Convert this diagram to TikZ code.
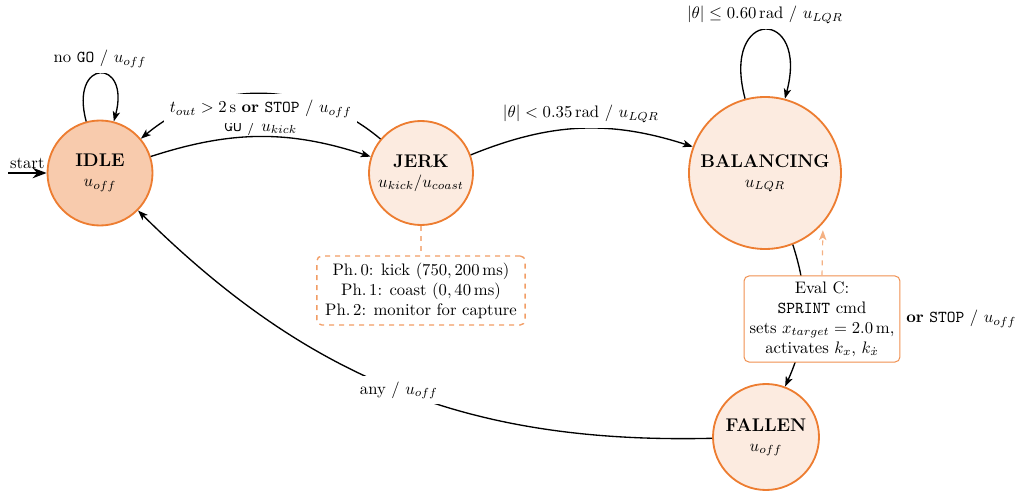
\documentclass[tikz,border=0pt]{standalone}
\usetikzlibrary{arrows.meta}
\definecolor{accent}{RGB}{237,125,49}
\newcommand{\statename}[1]{{\fontsize{11}{13}\selectfont\bfseries #1}}

\begin{document}
\begin{tikzpicture}[x=0.6pt,y=0.6pt,
  fsmstate/.style={circle, draw=accent, line width=1.1pt, fill=accent!15, align=center, inner sep=0pt},
  tip/.style={-{Stealth[length=6pt,width=4.4pt,inset=1.5pt]}},
  trans/.style={tip, line width=0.8pt},
  elabel/.style={fill=white, inner sep=3.33pt},
  notebox/.style={draw=accent!75, dashed, line width=0.8pt, rounded corners=3pt, fill=white,
                  align=center, inner xsep=5pt, inner ysep=4pt},
  evalbox/.style={draw=accent!85, line width=0.6pt, rounded corners=3pt, fill=white, align=center},
  hint/.style={draw=accent!55, dashed, line width=0.7pt}]

\useasboundingbox (0,0) rectangle (1022,493);

% states
\node[fsmstate, minimum size=63pt, fill=accent!40] (idle) at (100,320) {\statename{IDLE}\\$u_{off}$};
\node[fsmstate, minimum size=62.4pt] (jerk) at (421,320) {\statename{JERK}\\$u_{kick}/u_{coast}$};
\node[fsmstate, minimum size=91.2pt] (bal) at (765,320) {\statename{BALANCING}\\$u_{LQR}$};
\node[fsmstate, minimum size=63.6pt] (fallen) at (766,56) {\statename{FALLEN}\\$u_{off}$};

% initial arrow
\coordinate (startpt) at (8,320);
\draw[-{Stealth}, line width=1.2pt] (startpt) -- node[above, inner sep=2pt] (lstart) {start} (idle);

% self loops
\draw[trans] (idle.105) .. controls +(105:66) and +(75:66) ..
  node[elabel, above] (lnogo) {no \texttt{GO} / $u_{off}$} (idle.75);
\draw[trans] (bal.105) .. controls +(105:95) and +(75:95) ..
  node[elabel, above] (lhold) {$|\theta| \le 0.60\,\mathrm{rad}$ / $u_{LQR}$} (bal.75);

% transitions
\draw[trans] (idle) to[bend left=18]
  node[above, inner sep=3.33pt, yshift=-3pt] (lgo) {\texttt{GO} / $u_{kick}$} (jerk);
\draw[trans] (jerk) to[bend right=40]
  node[elabel, below] (ltout) {$t_{out} > 2\,\mathrm{s}$ \textbf{or} \texttt{STOP} / $u_{off}$} (idle);
\draw[trans] (jerk) to[bend left=20]
  node[elabel, above] (lcatch) {$|\theta| < 0.35\,\mathrm{rad}$ / $u_{LQR}$} (bal);
\draw[trans] (bal) to[bend left=21] (fallen);
\draw[trans] (fallen) to[bend left=23]
  node[elabel] (lany) {any / $u_{off}$} (idle);

% phase note for JERK
\node[notebox] (note) at (421,202.5)
  {Ph.\,0: kick $(750, 200\,\mathrm{ms})$\\
   Ph.\,1: coast $(0, 40\,\mathrm{ms})$\\
   Ph.\,2: monitor for capture};
\draw[hint] (jerk) -- (note);

% evaluation C annotation
\node[evalbox] (evalc) at (822,174)
  {Eval C:\\
   \texttt{SPRINT} cmd\\
   sets $x_{target} = 2.0\,\mathrm{m}$,\\
   activates $k_x$, $k_{\dot{x}}$};
\draw[hint, draw=accent!60, tip, shorten >=4pt] (evalc.north) -- (bal.-41.5);
\node[anchor=west, inner sep=3.33pt] (lfall) at (evalc.east) {\textbf{or} \texttt{STOP} / $u_{off}$};

\end{tikzpicture}
\end{document}
